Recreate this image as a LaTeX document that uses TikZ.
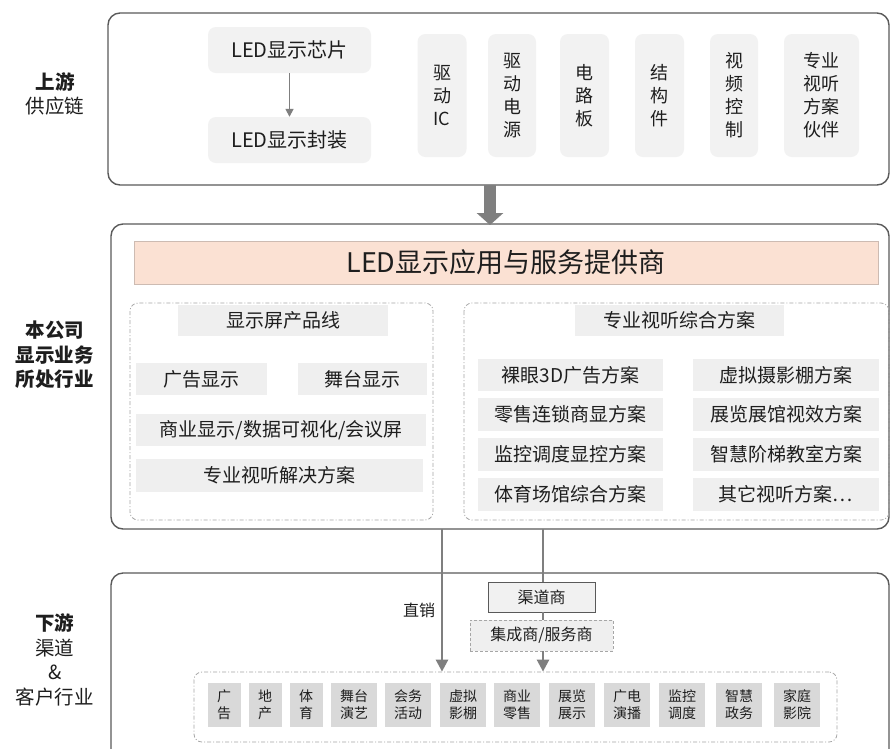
\documentclass[tikz,border=0pt]{standalone}
\usepackage{fontspec}
\setmainfont{Noto Sans CJK SC}
\usetikzlibrary{arrows.meta}
\definecolor{frame}{HTML}{5A5A5A}
\definecolor{txt}{HTML}{1E1E1E}
\definecolor{lbox}{HTML}{F2F2F2}
\definecolor{mbox}{HTML}{EFEFEF}
\definecolor{dbox}{HTML}{D9D9D9}
\definecolor{arrc}{HTML}{7F7F7F}
\definecolor{peach}{HTML}{FBE1D3}
\definecolor{peachb}{HTML}{CDBBB2}
\definecolor{dashc}{HTML}{A6A6A6}
\tikzset{
  bigframe/.style={draw=frame, line width=1.4pt, rounded corners=12pt},
  dashframe/.style={draw=dashc, line width=0.8pt, rounded corners=8pt, dash pattern=on 4pt off 2pt on 1pt off 2pt},
  topbox/.style={fill=lbox, rounded corners=8pt, inner sep=0pt, text=txt, align=center, font=\fontsize{18}{23}\selectfont},
  midbox/.style={fill=mbox, inner sep=0pt, text=txt, align=center, font=\fontsize{19}{22}\selectfont},
  smallbox/.style={fill=dbox, inner sep=0pt, text=txt, align=center, minimum height=44pt, font=\fontsize{14}{17}\selectfont},
  sidelabel/.style={text=txt, align=center, inner sep=0pt, font=\fontsize{19.5}{24.5}\selectfont},
  arr/.style={draw=arrc, line width=2.6pt, -{Triangle[width=12pt,length=12pt]}},
  plainline/.style={draw=arrc, line width=2.6pt},
}
\begin{document}
\begin{tikzpicture}[x=1pt,y=-1pt]
\useasboundingbox (0,0) rectangle (891,748);
\clip (0,0) rectangle (891,748);
\fill[white] (0,0) rectangle (891,748);

% side labels
\node[sidelabel] (lab1) at (55,94) {\textbf{上游}\\供应链};
\node[sidelabel] (lab2) at (55,355) {\textbf{本公司}\\\textbf{显示业务}\\\textbf{所处行业}};
\node[sidelabel] (lab3) at (55,660) {\textbf{下游}\\渠道\\\&\\客户行业};

% frames
\draw[bigframe] (108,13) rectangle (889,185);
\draw[bigframe] (111,224) rectangle (889,529);
\draw[bigframe] (111,573) rectangle (889,790);
\coordinate (topb) at (490,185);
\coordinate (midt) at (490,225);

% top section
\node[topbox, minimum width=163pt, minimum height=46pt, font=\fontsize{20}{24}\selectfont] (chip) at (289.5,50) {LED显示芯片};
\node[topbox, minimum width=163pt, minimum height=46pt, font=\fontsize{20}{24}\selectfont] (pack) at (289.5,140) {LED显示封装};
\draw[draw=arrc, line width=1.6pt, -{Triangle[width=8pt,length=8pt]}] (chip) -- (pack);

\node[topbox, minimum width=49pt, minimum height=123pt] (ic) at (442,95.5) {驱\\动\\IC};
\node[topbox, minimum width=48pt, minimum height=123pt] (pw) at (512,95.5) {驱\\动\\电\\源};
\node[topbox, minimum width=49pt, minimum height=123pt] (pcb) at (584.5,95.5) {电\\路\\板};
\node[topbox, minimum width=49pt, minimum height=123pt] (st) at (659.5,95.5) {结\\构\\件};
\node[topbox, minimum width=48pt, minimum height=123pt] (vc) at (734,95.5) {视\\频\\控\\制};
\node[topbox, minimum width=75pt, minimum height=123pt] (pa) at (821.5,95.5) {专业\\视听\\方案\\伙伴};

\draw[draw=arrc, line width=12pt, -{Triangle[width=26pt,length=12pt]}] (topb) -- (midt);

% middle section
\node[fill=peach, draw=peachb, line width=0.6pt, minimum width=744pt, minimum height=43pt, inner sep=0pt, text=txt, font=\fontsize{27}{30}\selectfont] (hdr) at (506,262.5) {LED显示应用与服务提供商};

\draw[dashframe] (130,303) rectangle (433,520);
\node[midbox, minimum width=210pt, minimum height=31pt] (lt) at (283,320.5) {显示屏产品线};
\node[midbox, minimum width=131pt, minimum height=32pt] (ad) at (201.5,379) {广告显示};
\node[midbox, minimum width=129pt, minimum height=32pt] (stage) at (362.5,379) {舞台显示};
\node[midbox, minimum width=290pt, minimum height=32pt] (biz) at (281,430) {商业显示/数据可视化/会议屏};
\node[midbox, minimum width=287pt, minimum height=33pt] (pro) at (279.5,475.5) {专业视听解决方案};

\draw[dashframe] (464,303) rectangle (889,520);
\node[midbox, minimum width=209pt, minimum height=31pt] (rt) at (679.5,320.5) {专业视听综合方案};
\node[midbox, minimum width=185pt, minimum height=32pt] (r1) at (570.5,375) {裸眼3D广告方案};
\node[midbox, minimum width=185pt, minimum height=33pt] (r2) at (570.5,414.5) {零售连锁商显方案};
\node[midbox, minimum width=185pt, minimum height=33pt] (r3) at (570.5,454.5) {监控调度显控方案};
\node[midbox, minimum width=185pt, minimum height=33pt] (r4) at (570.5,494.5) {体育场馆综合方案};
\node[midbox, minimum width=186pt, minimum height=32pt] (s1) at (786,375) {虚拟摄影棚方案};
\node[midbox, minimum width=186pt, minimum height=33pt] (s2) at (786,414.5) {展览展馆视效方案};
\node[midbox, minimum width=186pt, minimum height=33pt] (s3) at (786,454.5) {智慧阶梯教室方案};
\node[midbox, minimum width=186pt, minimum height=33pt] (s4) at (786,494.5) {其它视听方案⋯};

% bottom section
\node[draw=frame, line width=0.9pt, fill=mbox!90!white, minimum width=107pt, minimum height=30pt, inner sep=0pt, text=txt, font=\fontsize{16}{19}\selectfont] (qd) at (541.5,597) {渠道商};
\node[draw=dashc, line width=0.9pt, dash pattern=on 3pt off 2pt, fill=mbox, minimum width=143pt, minimum height=31pt, inner sep=0pt, text=txt, font=\fontsize{16}{19}\selectfont] (jc) at (541.5,635.5) {集成商/服务商};
\node[text=txt, inner sep=0pt, font=\fontsize{16}{19}\selectfont] (zx) at (419,610) {直销};

\node[dashframe, minimum width=643pt, minimum height=70pt, inner sep=0pt] (bd) at (515.5,707) {};

\node[smallbox, minimum width=33pt] (b1) at (224,705) {广\\告};
\node[smallbox, minimum width=33pt] (b2) at (265,705) {地\\产};
\node[smallbox, minimum width=33pt] (b3) at (306,705) {体\\育};
\node[smallbox, minimum width=46pt] (b4) at (354,705) {舞台\\演艺};
\node[smallbox, minimum width=46pt] (b5) at (408,705) {会务\\活动};
\node[smallbox, minimum width=46pt] (b6) at (463,705) {虚拟\\影棚};
\node[smallbox, minimum width=46pt] (b7) at (517,705) {商业\\零售};
\node[smallbox, minimum width=46pt] (b8) at (572,705) {展览\\展示};
\node[smallbox, minimum width=46pt] (b9) at (627,705) {广电\\演播};
\node[smallbox, minimum width=46pt] (b10) at (682,705) {监控\\调度};
\node[smallbox, minimum width=46pt] (b11) at (739,705) {智慧\\政务};
\node[smallbox, minimum width=46pt] (b12) at (797,705) {家庭\\影院};

\coordinate (ds) at (442,529);
\coordinate (cs) at (543,529);
\draw[arr] (ds) -- (ds |- bd.north);
\draw[plainline] (cs) -- (cs |- qd.north);
\draw[plainline] (cs |- qd.south) -- (cs |- jc.north);
\draw[arr] (cs |- jc.south) -- (cs |- bd.north);
\end{tikzpicture}
\end{document}
